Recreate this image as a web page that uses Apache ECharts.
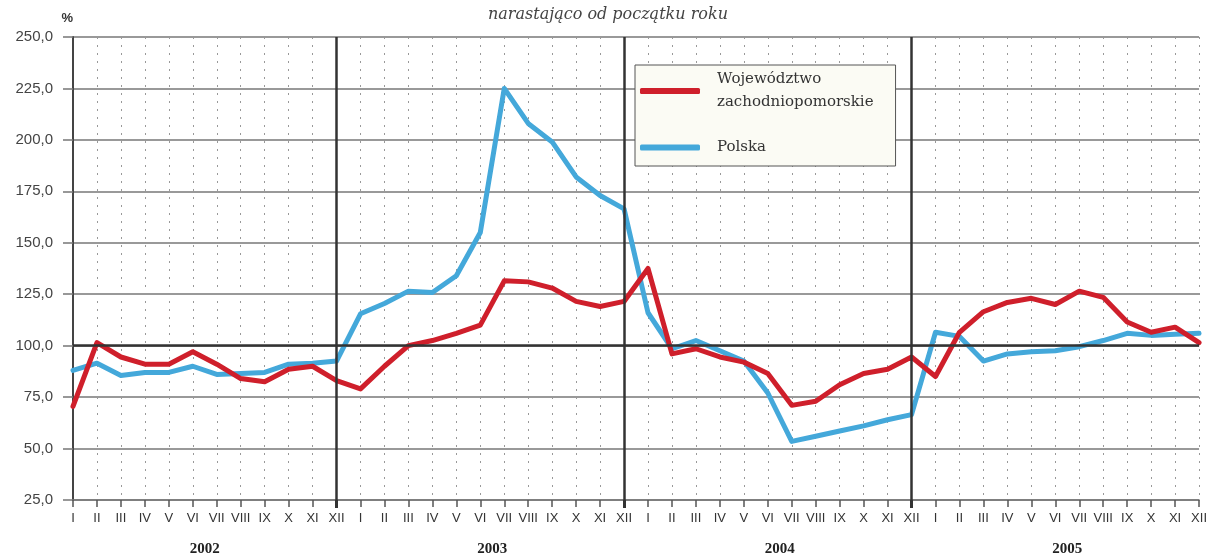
<!DOCTYPE html>
<html>
<head>
<meta charset="utf-8">
<script src="https://cdn.jsdelivr.net/npm/echarts@6/dist/echarts.min.js"></script>
<style>html,body{margin:0;padding:0;background:#fff}#c{width:1210px;height:560px}</style>
</head>
<body>
<div id="c"></div>
<script>
const months = ['I','II','III','IV','V','VI','VII','VIII','IX','X','XI','XII'];
const years = ['2002','2003','2004','2005'];
const categories = [].concat(months, months, months, months);
const regionName = 'Województwo zachodniopomorskie';
const polandName = 'Polska';
const regionValues = [
  70.5, 101.5, 94.5, 91, 91, 97, 91, 84, 82.5, 88.5, 90, 83,
  79, 90, 100, 102.5, 106, 110, 131.5, 131, 128, 121.5, 119, 121.5,
  137.5, 96, 98.5, 94.5, 92, 86.5, 71, 73, 81, 86.5, 88.5, 94.5,
  85, 106.5, 116.5, 121, 123, 120, 126.5, 123.5, 111.5, 106.5, 109, 101.5
];
const polandValues = [
  88, 91.5, 85.5, 87, 87, 90, 86, 86.5, 87, 91, 91.5, 92.5,
  115.5, 120.5, 126.5, 125.8, 134, 155, 225, 208, 199, 182, 173, 166.5,
  116, 98.5, 102.5, 97.5, 92.5, 77, 53.5, 56, 58.5, 61, 64, 66.5,
  106.5, 104.5, 92.5, 96, 97, 97.5, 99.5, 102.5, 106, 105, 105.5, 106
];
const yearCenters = [5.5, 17.5, 29.5, 41.5];
const yearEnds = [11, 23, 35];

const chart = echarts.init(document.getElementById('c'), null, {renderer: 'canvas'});
chart.setOption({
  animation: false,
  backgroundColor: '#ffffff',
  title: {
    text: 'narastająco od początku roku',
    left: 483, top: 2,
    textStyle: {fontFamily: 'DejaVu Serif', fontStyle: 'italic', fontWeight: 'normal', fontSize: 16, color: '#444'}
  },
  legend: {
    data: [regionName, polandName],
    orient: 'vertical',
    left: 635, top: 65,
    padding: [3, 22, 7, 5],
    itemGap: 22,
    itemWidth: 60, itemHeight: 6,
    icon: 'roundRect',
    backgroundColor: '#fbfbf4',
    borderColor: '#555', borderWidth: 1,
    formatter: function (n) { return n === regionName ? 'Województwo\nzachodniopomorskie' : n; },
    textStyle: {fontFamily: 'DejaVu Serif', fontSize: 15, color: '#333', lineHeight: 23, padding: [0, 0, 0, 12]}
  },
  grid: {left: 73, right: 10, top: 37, bottom: 60, containLabel: false},
  xAxis: [{
    type: 'category',
    data: categories,
    boundaryGap: false,
    axisLine: {show: true, lineStyle: {color: '#777', width: 1.5}},
    axisTick: {show: true, interval: 0, length: 7, lineStyle: {color: '#555', width: 1.5}},
    axisLabel: {interval: 0, margin: 12, fontFamily: 'Liberation Sans', fontSize: 13, color: '#333'},
    splitLine: {show: true, interval: 0, lineStyle: {color: '#999', width: 1, type: [2, 6]}}
  }, {
    type: 'value',
    min: 0, max: 47,
    position: 'bottom',
    axisLine: {show: false},
    axisTick: {show: true, customValues: yearEnds, length: 8, lineStyle: {color: '#333', width: 3}},
    axisLabel: {
      customValues: yearCenters, margin: 42,
      formatter: function (v) { return years[Math.round((v - 5.5) / 12)]; },
      fontFamily: 'Liberation Serif', fontWeight: 'bold', fontSize: 15, color: '#222'
    },
    splitLine: {show: false}
  }],
  yAxis: {
    type: 'value',
    min: 25, max: 250, interval: 25,
    name: '%',
    nameLocation: 'end',
    nameGap: 12,
    nameTextStyle: {align: 'right', fontFamily: 'Liberation Sans', fontWeight: 'bold', fontSize: 13, color: '#333'},
    axisLine: {show: true, lineStyle: {color: '#444', width: 2}},
    axisTick: {show: true, length: 10, lineStyle: {color: '#777', width: 1.5}},
    axisLabel: {margin: 20, fontFamily: 'Liberation Sans', fontSize: 15, color: '#444',
      formatter: function (v) { return v.toFixed(1).replace('.', ','); }},
    splitLine: {show: true, lineStyle: {color: '#777', width: 1.5}}
  },
  series: [{
    name: 'frame',
    type: 'line',
    data: [],
    silent: true,
    markLine: {
      silent: true, symbol: 'none', label: {show: false},
      animation: false,
      data: [
        {yAxis: 100, lineStyle: {color: '#333', width: 2.5, type: 'solid'}},
        {xAxis: yearEnds[0], lineStyle: {color: '#333', width: 2.5, type: 'solid'}},
        {xAxis: yearEnds[1], lineStyle: {color: '#333', width: 2.5, type: 'solid'}},
        {xAxis: yearEnds[2], lineStyle: {color: '#333', width: 2.5, type: 'solid'}}
      ]
    }
  }, {
    name: polandName,
    type: 'line',
    data: polandValues,
    symbol: 'none',
    itemStyle: {color: '#44a8da'},
    lineStyle: {color: '#44a8da', width: 5, join: 'round', cap: 'round'}
  }, {
    name: regionName,
    type: 'line',
    data: regionValues,
    symbol: 'none',
    itemStyle: {color: '#cf1f2b'},
    lineStyle: {color: '#cf1f2b', width: 5, join: 'round', cap: 'round'}
  }]
});
</script>
</body>
</html>
